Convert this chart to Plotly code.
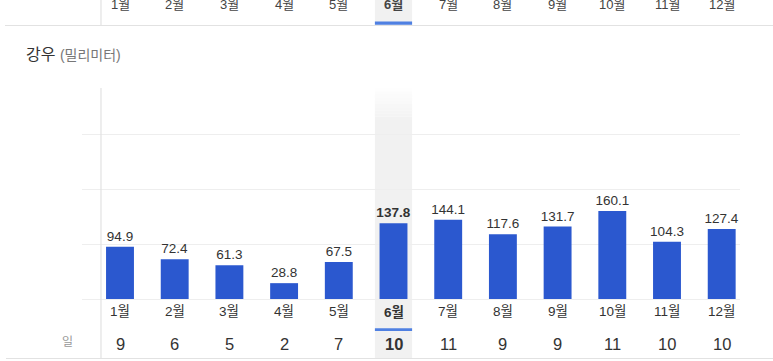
import plotly.graph_objects as go

months = ["1월", "2월", "3월", "4월", "5월", "6월", "7월", "8월", "9월", "10월", "11월", "12월"]
rain_mm = [94.9, 72.4, 61.3, 28.8, 67.5, 137.8, 144.1, 117.6, 131.7, 160.1, 104.3, 127.4]
rain_days = [9, 6, 5, 2, 7, 10, 11, 9, 9, 11, 10, 10]
highlight = "6월"
title_main = "강우"
title_unit = "(밀리미터)"
days_label = "일"

W, H = 773, 361
FONT = "Liberation Sans, Arial, Noto Sans CJK KR, sans-serif"
BAR = "#2b58cf"
BLUE_LINE = "#4f80e2"
BAND = "#f1f1f1"
GRID = "#eeeeee"
SEP = "#e2e2e2"

def py(p):
    return 1 - p / H

def px(p):
    return p / W

hi = months.index(highlight)

def bold_if(m, s):
    return f"<b>{s}</b>" if m == highlight else s

fig = go.Figure()
fig.add_trace(go.Bar(
    x=list(range(len(months))), y=rain_mm,
    marker=dict(color=BAR, line=dict(width=0)),
    width=0.51,
    text=[bold_if(m, f"{v:.1f}") for m, v in zip(months, rain_mm)],
    textposition="outside",
    constraintext="none",
    textfont=dict(family=FONT, size=13.5, color="#333333"),
    cliponaxis=False,
    hoverinfo="skip",
))

shapes = []
band_x0, band_x1 = hi - 0.34, hi + 0.34
shapes.append(dict(type="rect", xref="x", yref="paper", x0=band_x0, x1=band_x1,
                   y0=py(358), y1=py(120), fillcolor=BAND, line=dict(width=0), layer="below"))
steps = 10
for i in range(steps):
    y_top = 88 + i * 3.2
    shapes.append(dict(type="rect", xref="x", yref="paper", x0=band_x0, x1=band_x1,
                       y0=py(y_top + 3.2), y1=py(y_top), fillcolor=BAND,
                       opacity=(i + 1) / (steps + 1), line=dict(width=0), layer="below"))
shapes.append(dict(type="rect", xref="x", yref="paper", x0=band_x0, x1=band_x1,
                   y0=py(25), y1=py(0), fillcolor=BAND, line=dict(width=0), layer="below"))
shapes.append(dict(type="rect", xref="x", yref="paper", x0=band_x0, x1=band_x1,
                   y0=py(24.8), y1=py(21.6), fillcolor=BLUE_LINE, line=dict(width=0)))
shapes.append(dict(type="rect", xref="x", yref="paper", x0=band_x0, x1=band_x1,
                   y0=py(331), y1=py(328.2), fillcolor=BLUE_LINE, line=dict(width=0)))
shapes.append(dict(type="line", xref="paper", yref="paper", x0=px(5), x1=1,
                   y0=py(25.5), y1=py(25.5), line=dict(color=SEP, width=1.2)))
shapes.append(dict(type="line", xref="paper", yref="paper", x0=px(6), x1=1,
                   y0=py(358.5), y1=py(358.5), line=dict(color=SEP, width=1.2)))
shapes.append(dict(type="line", xref="paper", yref="paper", x0=px(101), x1=px(101),
                   y0=py(25), y1=1, line=dict(color=SEP, width=1.2)))
shapes.append(dict(type="line", xref="paper", yref="paper", x0=px(101), x1=px(101),
                   y0=py(358), y1=py(88), line=dict(color=SEP, width=1.2)))

ann = []
for i, m in enumerate(months):
    ann.append(dict(x=i, xref="x", y=py(4.5), yref="paper", text=bold_if(m, m),
                    showarrow=False, yanchor="middle",
                    font=dict(family=FONT, size=13, color="#444444")))
    ann.append(dict(x=i, xref="x", y=py(311.5), yref="paper", text=bold_if(m, m),
                    showarrow=False, yanchor="middle",
                    font=dict(family=FONT, size=13.5, color="#333333")))
    ann.append(dict(x=i, xref="x", y=py(343.5), yref="paper", text=bold_if(m, str(rain_days[i])),
                    showarrow=False, yanchor="middle",
                    font=dict(family=FONT, size=16.5, color="#333333")))

ann.append(dict(x=px(24), xref="paper", y=py(55), yref="paper", xanchor="left", yanchor="middle",
                showarrow=False,
                text=f"<span style='color:#333333;font-size:16px'>{title_main}</span> "
                     f"<span style='color:#777777;font-size:14px'>{title_unit}</span>",
                font=dict(family=FONT, size=16, color="#333333")))
ann.append(dict(x=px(67), xref="paper", y=py(342), yref="paper", xanchor="center", yanchor="middle",
                showarrow=False, text=days_label,
                font=dict(family=FONT, size=12, color="#999999")))

cat_px = 54.7
x_left = (82 - 120) / cat_px
x_right = (740 - 120) / cat_px

fig.update_layout(
    width=W, height=H,
    margin=dict(l=0, r=0, t=0, b=0),
    paper_bgcolor="white", plot_bgcolor="rgba(0,0,0,0)",
    showlegend=False,
    xaxis=dict(domain=[px(82), px(740)], range=[x_left, x_right], showticklabels=False,
               showgrid=False, zeroline=False, showline=False, fixedrange=True),
    yaxis=dict(domain=[py(299), py(88)], range=[0, 211 / 0.55], tickvals=[0, 100, 200, 300],
               showticklabels=False, showgrid=True, gridcolor=GRID, gridwidth=1.2,
               zeroline=True, zerolinecolor=GRID, zerolinewidth=1.2, showline=False, fixedrange=True),
    shapes=shapes,
    annotations=ann,
    bargap=0.49,
)

fig.write_html("out.html", config={"displayModeBar": False},
               post_script="document.body.style.margin='0';document.body.style.overflow='hidden';")
